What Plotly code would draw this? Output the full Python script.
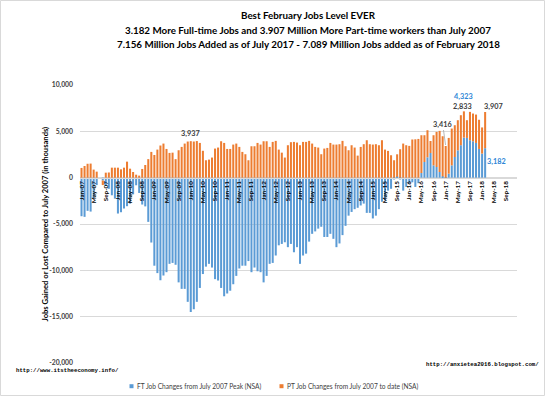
import plotly.graph_objects as go

# ---------------- data (thousands of jobs vs July 2007) ----------------
month_names = ["Jan", "Feb", "Mar", "Apr", "May", "Jun",
               "Jul", "Aug", "Sep", "Oct", "Nov", "Dec"]
years = ["07", "08", "09", "10", "11", "12", "13", "14", "15", "16", "17", "18"]
months = [m + "-" + y for y in years for m in month_names]   # axis categories Jan-07 .. Dec-18

ft_changes = [
    -4160, -4230, -3580, -3660, -2200, -800, 0, -300, -900, -1200, -1900, -2260,
    -3870, -3730, -3330, -3080, -2800, -1800, -820, -1650, -2900, -3100, -4770, -7000,
    -9500, -10300, -11070, -10560, -10200, -9300, -9200, -9400, -11300, -12000, -12000, -13400,
    -14500, -14200, -13400, -11900, -10400, -9600, -9300, -9700, -10950, -11100, -11900, -12800,
    -12500, -12200, -11500, -10600, -9800, -9500, -9500, -9000, -10200, -9700, -10100, -10200,
    -11300, -10600, -9300, -9200, -8400, -7300, -7150, -6970, -7500, -7150, -8050, -7500,
    -9300, -8400, -8200, -6900, -6060, -5800, -5500, -5300, -6400, -6400, -6060, -6600,
    -7500, -7100, -6200, -5200, -4100, -3700, -3400, -3250, -3000, -2800, -3800, -3800,
    -4400, -4100, -3400, -2600, -2450, -1400, -1200, -200, 100, -200, -1400, -1000,
    -650, -500, -1000, -600, 500, 1690, 2200, 2660, 1330, 1150, 610, 140,
    -100, 430, 1330, 2230, 2950, 3500, 4323, 4290, 4040, 3930, 3750, 3100,
    2600, 3182,
]
pt_changes = [
    1050, 1260, 1500, 1520, 870, 650, 0, -500, 540, 560, 1080, 1080,
    1080, 900, 1080, 1730, 970, 610, 320, 220, 940, 1370, 2000, 2780,
    2450, 3030, 3470, 3680, 3100, 2670, 2700, 2000, 2960, 3320, 3680, 3900,
    3937, 3900, 3950, 3750, 2900, 1880, 1950, 2170, 3140, 3250, 3930, 3750,
    3100, 3100, 3570, 3680, 3320, 2780, 2530, 1880, 3390, 3390, 3750, 3570,
    3930, 3930, 3320, 3860, 3970, 3030, 2700, 2170, 3500, 3830, 3860, 3790,
    3500, 3860, 3860, 3970, 3680, 3320, 3250, 2530, 3140, 3210, 3750, 3570,
    3570, 3610, 3970, 3390, 2960, 3500, 3250, 2380, 3320, 3610, 4040, 3610,
    3570, 3610, 3500, 4040, 3030, 2890, 2420, 1880, 2420, 3070, 3680, 3500,
    3430, 4120, 4140, 4180, 4080, 2890, 2920, 1300, 3250, 3790, 4440, 4330,
    3416, 3860, 3970, 3430, 3250, 3240, 2833, 1910, 3060, 2990, 3060, 3150,
    2820, 3907,
]
data_months = months[:len(ft_changes)]

x_tick_labels = months[::4][:36]          # Jan-07, May-07, ... Sep-18
y_tick_values = [-20000, -15000, -10000, -5000, 0, 5000, 10000]
y_tick_labels = ["-20,000", "-15,000", "-10,000", "-5,000", "0", "5,000", "10,000"]

title_lines = [
    "Best February Jobs Level EVER",
    "3.182 More Full-time Jobs and 3.907 Million More Part-time workers than July 2007",
    "7.156 Million Jobs Added as of July 2017 - 7.089 Million Jobs added as of February 2018",
]
series_names = ["FT Job Changes from July 2007 Peak (NSA)",
                "PT Job Changes from July 2007 to date (NSA)"]

# ---------------- layout geometry ----------------
W, H = 547, 397
L, R, T, B = 80, 30, 85, 34
PW, PH = W - L - R, H - T - B


def px(x):
    return (x - L) / PW


def py(y):
    return (H - B - y) / PH


BLUE = "#5B9BD5"
ORANGE = "#ED7D31"
DARK = "#404040"
LABEL_BLUE = "#2E86D6"
FONT = "Lato"

fig = go.Figure()
fig.add_bar(x=data_months, y=ft_changes, name=series_names[0],
            marker=dict(color=BLUE, line=dict(width=0)), showlegend=False)
fig.add_bar(x=data_months, y=pt_changes, name=series_names[1],
            marker=dict(color=ORANGE, line=dict(width=0)), showlegend=False)

ann = []
# titles
for line, yy in zip(title_lines, [15.4, 29.7, 44.4]):
    ann.append(dict(text="<b>" + line + "</b>", x=px(308), y=py(yy), xref="paper", yref="paper",
                    xanchor="center", yanchor="middle", showarrow=False,
                    font=dict(family=FONT, size=9.8, color="#000000")))
# y-axis title
ann.append(dict(text="<b>Jobs Gained or Lost Compared to July 2007 (in thousands)</b>",
                x=px(44.5), y=py(224), xref="paper", yref="paper", textangle=-90,
                xanchor="center", yanchor="middle", showarrow=False,
                font=dict(family=FONT, size=7.6, color="#000000")))


def tot(i):
    return ft_changes[i] + pt_changes[i] if ft_changes[i] > 0 else pt_changes[i]


# data labels
i36 = pt_changes.index(3937)
ann.append(dict(text="<b>3,937</b>", x=data_months[i36], y=tot(i36), yshift=8, showarrow=False,
                font=dict(family=FONT, size=7.3, color=DARK)))
i120 = pt_changes.index(3416)
ann.append(dict(text="<b>3,416</b>", x=data_months[i120], y=tot(i120), showarrow=True,
                ax=-3, ay=-22, arrowhead=0, arrowwidth=0.8, arrowcolor="#A6A6A6", standoff=1,
                font=dict(family=FONT, size=7.3, color=DARK)))
i126 = ft_changes.index(4323)
ann.append(dict(text="<b>2,833</b>", x=data_months[i126], y=tot(i126), yshift=5, xshift=-1,
                showarrow=False, font=dict(family=FONT, size=7.3, color=DARK)))
ann.append(dict(text="<b>4,323</b>", x=data_months[i126], y=tot(i126), yshift=15,
                showarrow=False, font=dict(family=FONT, size=7.3, color=LABEL_BLUE)))
i133 = len(ft_changes) - 1
ann.append(dict(text="<b>3,907</b>", x=data_months[i133], y=tot(i133), yshift=5, xshift=8,
                showarrow=False, font=dict(family=FONT, size=7.3, color=DARK)))
ann.append(dict(text="<b>3,182</b>", x=data_months[i133], y=ft_changes[i133], yshift=-13, xshift=11,
                showarrow=False, font=dict(family=FONT, size=7.3, color=LABEL_BLUE)))

# source urls
ann.append(dict(text="<b>http://www.itstheeconomy.info/</b>", x=px(14), y=py(370.5),
                xref="paper", yref="paper", xanchor="left", yanchor="middle", showarrow=False,
                font=dict(family="Liberation Mono", size=5.7, color="#000000")))
ann.append(dict(text="<b>http://anxietea2016.blogspot.com/</b>", x=px(541), y=py(364.2),
                xref="paper", yref="paper", xanchor="right", yanchor="middle", showarrow=False,
                font=dict(family="Liberation Mono", size=5.7, color="#000000")))

# legend (squares + text)
shapes = []
for (sx, tx, col, name) in [(129.5, 134.5, BLUE, series_names[0]),
                             (279.5, 284.5, ORANGE, series_names[1])]:
    shapes.append(dict(type="rect", xref="paper", yref="paper",
                       x0=px(sx), x1=px(sx + 4), y0=py(388.2), y1=py(384.2),
                       fillcolor=col, line=dict(width=0)))
    ann.append(dict(text=name, x=px(tx), y=py(386.2), xref="paper", yref="paper",
                    xanchor="left", yanchor="middle", showarrow=False,
                    font=dict(family=FONT, size=6.6, color=DARK)))

# chart border
shapes.append(dict(type="rect", xref="paper", yref="paper",
                   x0=px(0.5), x1=px(544.5), y0=py(395.5), y1=py(0.5),
                   line=dict(color="#D9D9D9", width=1), fillcolor="rgba(0,0,0,0)"))

fig.update_layout(
    width=W, height=H,
    margin=dict(l=L, r=R, t=T, b=B, pad=0),
    paper_bgcolor="white", plot_bgcolor="white",
    barmode="relative", bargap=0.33,
    font=dict(family=FONT, color=DARK),
    annotations=ann, shapes=shapes,
    xaxis=dict(type="category", categoryorder="array", categoryarray=months,
               range=[-0.5, len(months) - 0.5],
               tickmode="array", tickvals=x_tick_labels, ticktext=x_tick_labels,
               tickangle=-90, tickfont=dict(family=FONT, size=6.3, color="#000000", weight="bold"),
               anchor="free", position=2 / 3, showline=True, linecolor="#D9D9D9", linewidth=1,
               showgrid=False, ticks="", zeroline=False, fixedrange=True),
    yaxis=dict(range=[-20000, 10000], tickmode="array", tickvals=y_tick_values,
               ticktext=y_tick_labels, tickfont=dict(family=FONT, size=6.8, color=DARK, weight="bold"),
               showgrid=True, gridcolor="#D9D9D9", gridwidth=1, zeroline=False, showline=False,
               ticks="", ticklabelstandoff=6, fixedrange=True),
)

fig.write_html("out.html", config={"displayModeBar": False},
               post_script="document.body.style.margin='0px';document.body.style.overflow='hidden';")
